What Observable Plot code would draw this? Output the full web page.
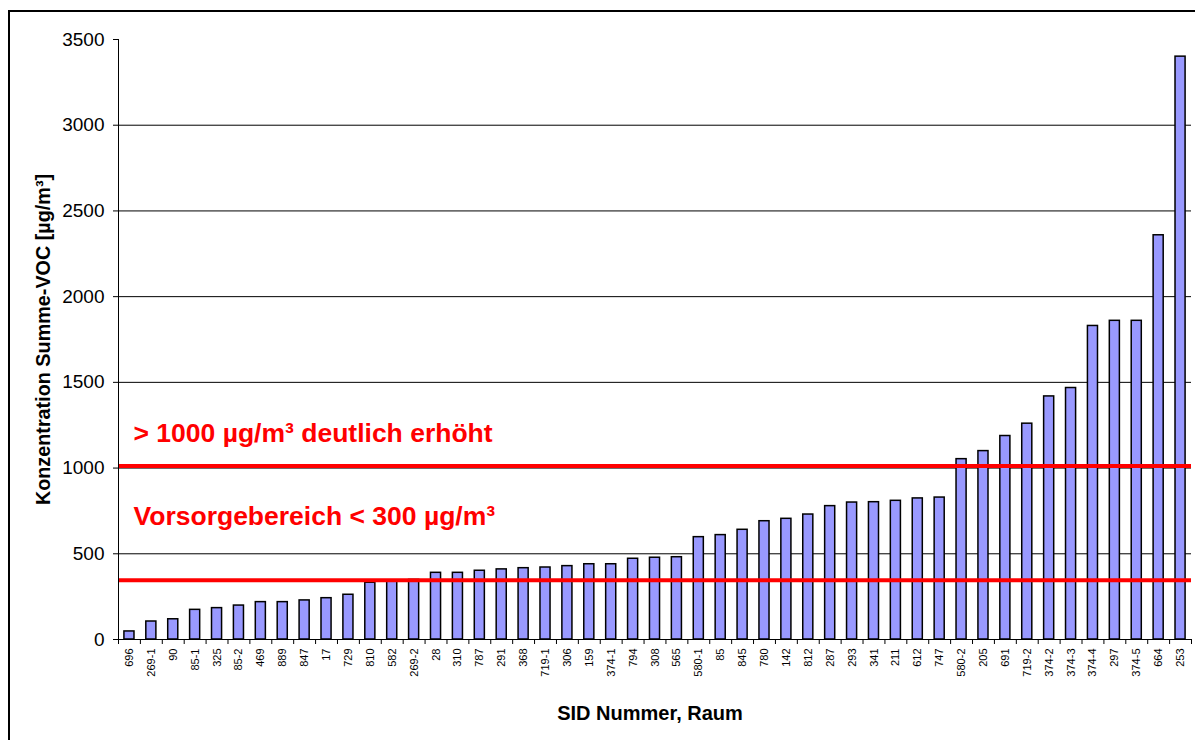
<!DOCTYPE html>
<html><head><meta charset="utf-8">
<script src="https://cdn.jsdelivr.net/npm/d3@7"></script>
<script src="https://cdn.jsdelivr.net/npm/@observablehq/plot@0.6"></script>
<style>
body{margin:0;background:#fff;font-family:"Liberation Sans",Arial,sans-serif;}
#wrap{position:relative;width:1195px;height:740px;overflow:hidden;background:#fff;}
#chart svg{display:block;}
#border{position:absolute;left:8px;top:10px;width:1400px;height:900px;border-left:2px solid #000;border-top:2px solid #000;pointer-events:none;}
</style></head><body>
<div id="wrap"><div id="chart"></div><div id="border"></div></div>
<script>
const rooms = ["696","269-1","90","85-1","325","85-2","469","889","847","17","729","810","582","269-2","28","310","787","291","368","719-1","306","159","374-1","794","308","565","580-1","85","845","780","142","812","287","293","341","211","612","747","580-2","205","691","719-2","374-2","374-3","374-4","297","374-5","664","253"];
const vocValues = [47,105,118,173,183,198,218,218,228,241,261,331,342,348,389,389,401,409,416,420,428,439,439,471,477,480,597,609,640,690,704,729,778,799,801,809,823,828,1052,1099,1187,1259,1418,1467,1829,1859,1859,2358,3400];
const thresholdValues = [1012, 345];
const annotationTexts = ["> 1000 µg/m³ deutlich erhöht", "Vorsorgebereich < 300 µg/m³"];
const annotationY = [1150, 670];
const yTicks = [0,500,1000,1500,2000,2500,3000,3500];
const gridTicks = [500,1000,1500,2000,2500,3000];
const yTitle = "Konzentration Summe-VOC [µg/m³]";
const xTitle = "SID Nummer, Raum";

const W = 1195, H = 740, mL = 118, mR = 4, mT = 39, mB = 101;
const step = (W - mL - mR) / rooms.length;
const data = rooms.map((r, i) => ({room: r, value: vocValues[i]}));
const annotations = annotationTexts.map((t, i) => ({text: t, y: annotationY[i]}));
const font = '"Liberation Sans", Arial, sans-serif';

const chart = Plot.plot({
  width: W, height: H,
  marginLeft: mL, marginRight: mR, marginTop: mT, marginBottom: mB,
  style: {fontFamily: font, background: "white", overflow: "visible", color: "black"},
  x: {type: "band", domain: rooms, paddingInner: 0.54, paddingOuter: 0.27, align: 0.5},
  y: {domain: [0, 3500]},
  marks: [
    Plot.gridY(gridTicks, {stroke: "#000", strokeOpacity: 1, strokeWidth: 1}),
    Plot.barY(data, {x: "room", y: "value", fill: "#9999ff", stroke: "#000", strokeWidth: 1.5}),
    Plot.ruleY(thresholdValues, {stroke: "#ff0000", strokeWidth: 4}),
    Plot.ruleY([0], {stroke: "#000", strokeWidth: 1}),
    Plot.ruleX([rooms[0]], {y1: 0, y2: 3500, dx: -step / 2, stroke: "#000", strokeWidth: 1}),
    Plot.axisY({ticks: yTicks, tickSize: 5, tickPadding: 9, fontSize: 19, label: null, tickFormat: d => String(d)}),
    Plot.axisX({tickSize: 0, tickPadding: 9, tickRotate: -90, fontSize: 11, label: null}),
    Plot.axisX({tickSize: 5, tickFormat: () => "", dx: -step / 2, label: null}),
    Plot.axisX({ticks: [rooms[rooms.length - 1]], tickSize: 5, tickFormat: () => "", dx: step / 2, label: null}),
    Plot.text(annotations, {frameAnchor: "left", y: "y", text: "text", dx: 15, textAnchor: "start", lineAnchor: "bottom", fill: "#ff0000", fontSize: 26.5, fontWeight: "bold"}),
    Plot.text([yTitle], {text: d => d, frameAnchor: "left", rotate: -90, dx: -75, textAnchor: "middle", lineAnchor: "middle", fontSize: 19.8, fontWeight: "bold", fill: "#000"}),
    Plot.text([xTitle], {text: d => d, frameAnchor: "bottom", dy: 74, dx: -5, textAnchor: "middle", lineAnchor: "middle", fontSize: 20, fontWeight: "bold", fill: "#000"})
  ]
});
document.getElementById("chart").appendChild(chart);
</script>
</body></html>
